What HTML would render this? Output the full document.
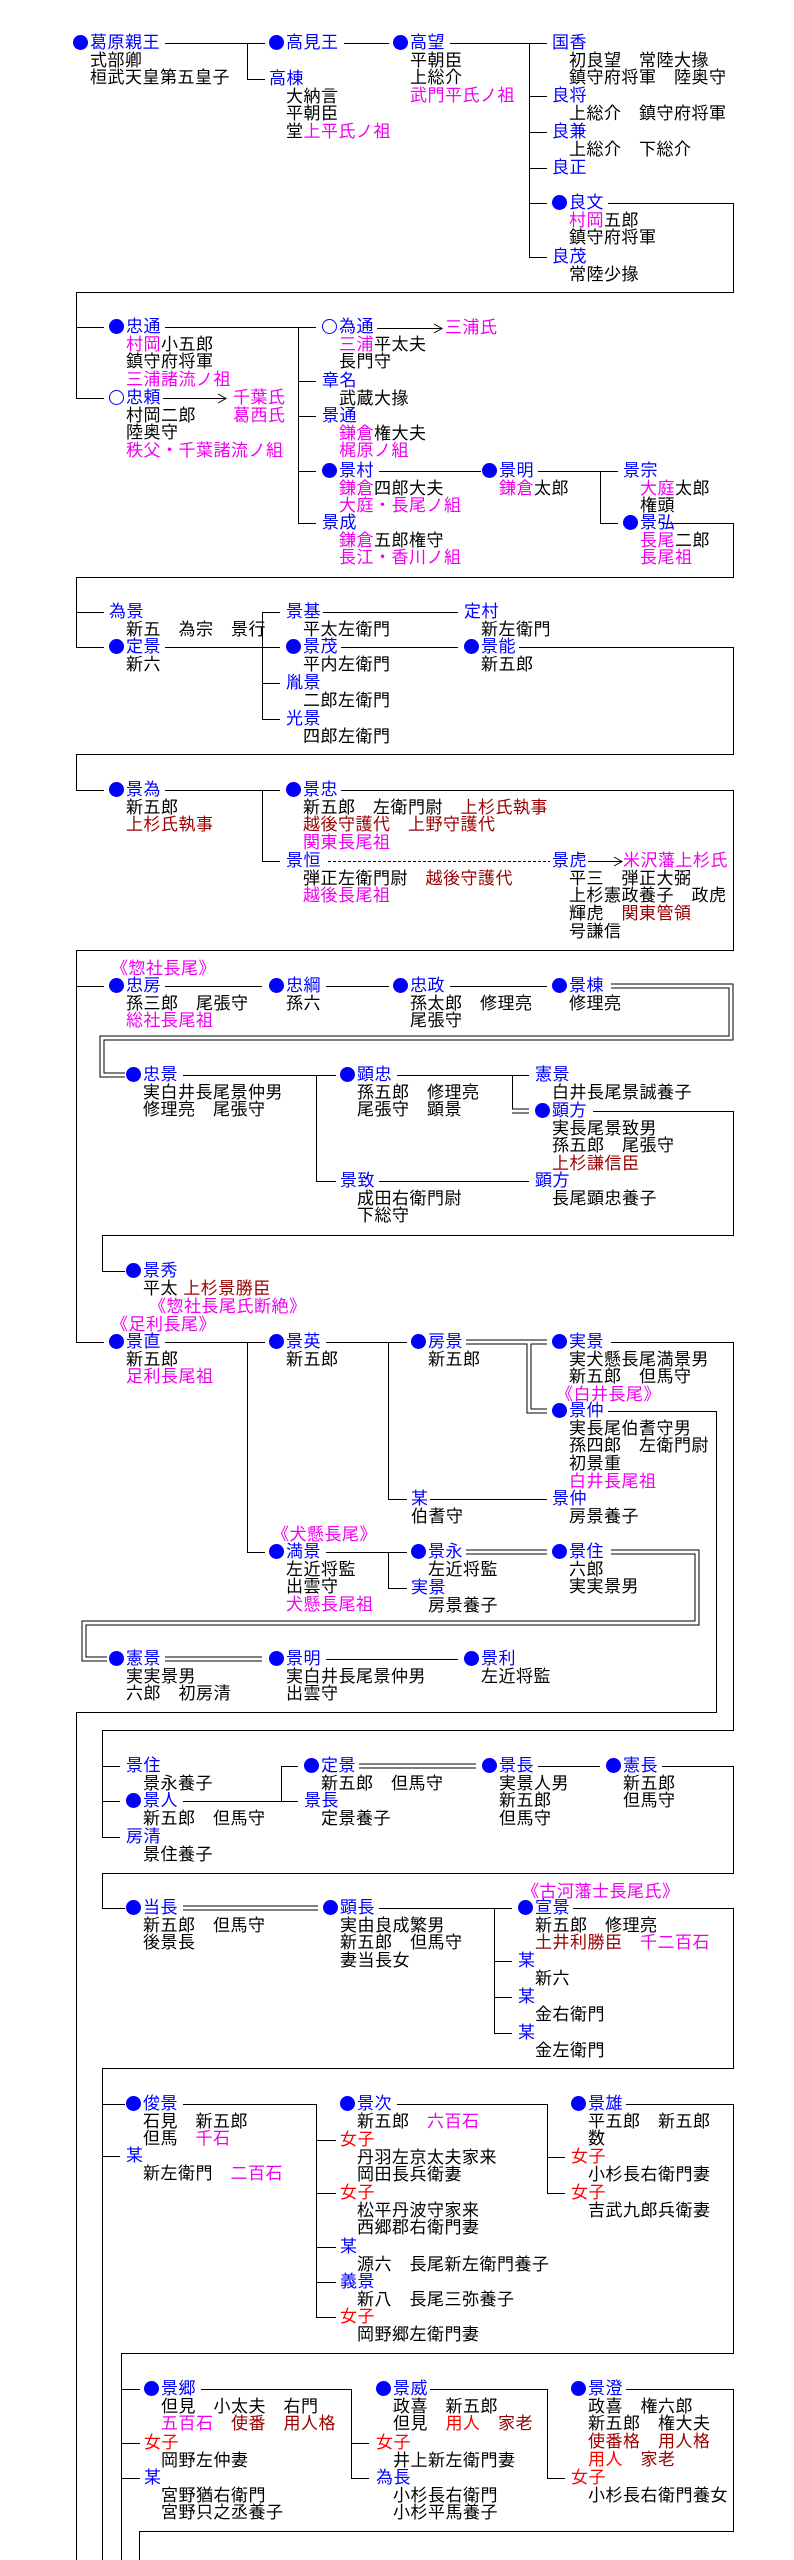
<!DOCTYPE html>
<html><head><meta charset="utf-8">
<style>
html,body{margin:0;padding:0;background:#fff;}
body{width:794px;height:2560px;position:relative;overflow:hidden;font-family:"Liberation Sans","Noto Sans CJK JP","IPAGothic",sans-serif;font-size:17px;letter-spacing:0.5px;line-height:17.7px;color:#000;}
.n{position:absolute;white-space:nowrap;}
.n div{margin-left:17px;}
.n div.ni{margin-left:0;}
.b{color:#0000ff}
.m{color:#f000f0}
.r{color:#990000}
.rd{color:#ff0000}
.c{display:inline-block;width:15px;height:15px;border-radius:50%;background:#0000ff;margin-right:2px;vertical-align:-2px;}
.o{display:inline-block;width:13px;height:13px;border-radius:50%;border:1px solid #0000ff;margin-right:2px;vertical-align:-2px;}
svg{position:absolute;left:0;top:0;}
</style></head><body>
<svg width="794" height="2560" viewBox="0 0 794 2560">
<g fill="none" stroke="#000" stroke-width="1">
<!-- S1 -->
<path d="M165 43.5H265M247.5 43.5V79.5H265"/>
<path d="M344 43.5H389"/>
<path d="M450 43.5H547M529.5 43.5V257.5M529 96.5H547M529 132.5H547M529 168.5H547M529 203.5H547M529 257.5H547"/>
<path d="M608 203.5H733.5V292.5H76.5V398.5H104M76 327.5H104"/>
<!-- S2 -->
<path d="M165 327.5H298.5V523.5M298 381.5H316M298 416.5H316M298 471.5H316M298 523.5H316M298 327.5H316"/>
<path d="M163 398.5H226M218 394L226 398.5L218 403"/>
<path d="M377 328.5H442M434 324L442 328.5L434 333"/>
<path d="M379 471.5H481"/>
<path d="M538 471.5H600.5V523.5H618M600 471.5H618"/>
<path d="M662 523.5H733.5V577.5H76.5V647.5H104M76 612.5H104"/>
<!-- S3 -->
<path d="M165 647.5H262.5M262.5 612.5V719.5M262 612.5H280M262 647.5H280M262 683.5H280M262 719.5H280"/>
<path d="M323 612.5H458M341 647.5H458"/>
<path d="M519 647.5H733.5V754.5H76.5V790.5H104"/>
<path d="M165 790.5H262.5V861.5H280M262 790.5H280"/>
<path d="M341 790.5H733.5V950.5H76.5V1342.5M76 986.5H104M76 1342.5H104"/>
<path d="M328 861.5H550" stroke-dasharray="3,2"/>
<path d="M588 861.5H622M614 857L622 861.5L614 866"/>
<!-- S4 -->
<path d="M165 986.5H262M326 986.5H389M450 986.5H547"/>
<path d="M183 1075.5H316.5V1181.5H336M316 1075.5H336"/>
<path d="M397 1075.5H529M512.5 1075.5V1111"/>
<path d="M379 1181.5H529"/>
<path d="M593 1111.5H733.5V1235.5H102.5V1271.5H125"/>
<!-- S5 -->
<path d="M165 1342.5H247.5V1552.5H265M247 1342.5H265"/>
<path d="M326 1342.5H388.5V1499.5H407M388 1342.5H407"/>
<path d="M611 1342.5H733.5V1730.5H102.5V1837.5H120M102 1766.5H120M102 1801.5H120"/>
<path d="M608 1411.5H716.5V1712.5H76.5V2560"/>
<path d="M430 1499.5H547"/>
<path d="M326 1552.5H388.5V1588.5H407M388 1552.5H407"/>
<path d="M326 1659.5H458"/>
<!-- S6 -->
<path d="M183 1801.5H281.5V1766.5H298M281 1801.5H298"/>
<path d="M538 1766.5H600"/>
<path d="M662 1766.5H733.5V1873.5H102.5V1908.5H125"/>
<path d="M379 1908.5H494.5V2033.5H512M494 1908.5H512M494 1961.5H512M494 1997.5H512"/>
<path d="M573 1908.5H733.5V2068.5H102.5V2560M102 2104.5H125M102 2156.5H120"/>
<path d="M183 2104.5H316.5V2317.5H336M316 2140.5H336M316 2193.5H336M316 2247.5H336M316 2282.5H336"/>
<path d="M397 2104.5H547.5V2193.5H565M547 2157.5H565"/>
<path d="M626 2104.5H733.5V2353.5H121.5V2560M121 2389.5H140M121 2443.5H140M121 2478.5H140"/>
<!-- S7 -->
<path d="M201 2389.5H351.5V2478.5H369M351 2443.5H369"/>
<path d="M430 2389.5H547.5V2478.5H565"/>
<path d="M626 2389.5H733.5V2531.5H139.5V2560"/>
</g>
<!-- double lines -->
<g fill="none" stroke="#000" stroke-width="5">
<path d="M611 986H731V1038H102V1075H125"/>
<path d="M512 1111H529"/>
<path d="M466 1342H547M529 1342V1411H547"/>
<path d="M466 1552H547"/>
<path d="M611 1552H697V1623H84V1659H107"/>
<path d="M165 1659H262"/>
<path d="M359 1766H476"/>
<path d="M183 1908H318"/>
</g>
<g fill="none" stroke="#fff" stroke-width="3">
<path d="M610 986H731V1038H102V1075H126"/>
<path d="M511 1111H530"/>
<path d="M465 1342H548M529 1342V1411H548"/>
<path d="M465 1552H548"/>
<path d="M610 1552H697V1623H84V1659H108"/>
<path d="M164 1659H263"/>
<path d="M358 1766H477"/>
<path d="M182 1908H319"/>
</g>
</svg>

<!-- S1 -->
<div class="n" style="left:73px;top:34px"><span class="c"></span><span class="b">葛原親王</span><div>式部卿</div><div>桓武天皇第五皇子</div></div>
<div class="n" style="left:269px;top:34px"><span class="c"></span><span class="b">高見王</span></div>
<div class="n" style="left:269px;top:70px"><span class="b">高棟</span><div>大納言</div><div>平朝臣</div><div>堂<span class="m">上平氏ノ祖</span></div></div>
<div class="n" style="left:393px;top:34px"><span class="c"></span><span class="b">高望</span><div>平朝臣</div><div>上総介</div><div class="m">武門平氏ノ祖</div></div>
<div class="n" style="left:552px;top:34px"><span class="b">国香</span><div>初良望　常陸大掾</div><div>鎮守府将軍　陸奥守</div></div>
<div class="n" style="left:552px;top:87px"><span class="b">良将</span><div>上総介　鎮守府将軍</div></div>
<div class="n" style="left:552px;top:123px"><span class="b">良兼</span><div>上総介　下総介</div></div>
<div class="n" style="left:552px;top:159px"><span class="b">良正</span></div>
<div class="n" style="left:552px;top:194px"><span class="c"></span><span class="b">良文</span><div><span class="m">村岡</span>五郎</div><div>鎮守府将軍</div></div>
<div class="n" style="left:552px;top:248px"><span class="b">良茂</span><div>常陸少掾</div></div>

<!-- S2 -->
<div class="n" style="left:109px;top:318px"><span class="c"></span><span class="b">忠通</span><div><span class="m">村岡</span>小五郎</div><div>鎮守府将軍</div><div class="m">三浦諸流ノ祖</div></div>
<div class="n" style="left:109px;top:389px"><span class="o"></span><span class="b">忠頼</span><div>村岡二郎</div><div>陸奥守</div><div class="m">秩父・千葉諸流ノ組</div></div>
<div class="n m" style="left:233px;top:389px">千葉氏<div class="ni">葛西氏</div></div>
<div class="n" style="left:322px;top:318px"><span class="o"></span><span class="b">為通</span><div><span class="m">三浦</span>平太夫</div><div>長門守</div></div>
<div class="n m" style="left:445px;top:319px">三浦氏</div>
<div class="n" style="left:322px;top:372px"><span class="b">章名</span><div>武蔵大掾</div></div>
<div class="n" style="left:322px;top:407px"><span class="b">景通</span><div><span class="m">鎌倉</span>権大夫</div><div class="m">梶原ノ組</div></div>
<div class="n" style="left:322px;top:462px"><span class="c"></span><span class="b">景村</span><div><span class="m">鎌倉</span>四郎大夫</div><div class="m">大庭・長尾ノ組</div></div>
<div class="n" style="left:322px;top:514px"><span class="b">景成</span><div><span class="m">鎌倉</span>五郎権守</div><div class="m">長江・香川ノ組</div></div>
<div class="n" style="left:482px;top:462px"><span class="c"></span><span class="b">景明</span><div><span class="m">鎌倉</span>太郎</div></div>
<div class="n" style="left:623px;top:462px"><span class="b">景宗</span><div><span class="m">大庭</span>太郎</div><div>権頭</div></div>
<div class="n" style="left:623px;top:514px"><span class="c"></span><span class="b">景弘</span><div><span class="m">長尾</span>二郎</div><div class="m">長尾祖</div></div>

<!-- S3 -->
<div class="n" style="left:109px;top:603px"><span class="b">為景</span><div>新五　為宗　景行</div></div>
<div class="n" style="left:109px;top:638px"><span class="c"></span><span class="b">定景</span><div>新六</div></div>
<div class="n" style="left:286px;top:603px"><span class="b">景基</span><div>平太左衛門</div></div>
<div class="n" style="left:464px;top:603px"><span class="b">定村</span><div>新左衛門</div></div>
<div class="n" style="left:286px;top:638px"><span class="c"></span><span class="b">景茂</span><div>平内左衛門</div></div>
<div class="n" style="left:464px;top:638px"><span class="c"></span><span class="b">景能</span><div>新五郎</div></div>
<div class="n" style="left:286px;top:674px"><span class="b">胤景</span><div>二郎左衛門</div></div>
<div class="n" style="left:286px;top:710px"><span class="b">光景</span><div>四郎左衛門</div></div>
<div class="n" style="left:109px;top:781px"><span class="c"></span><span class="b">景為</span><div>新五郎</div><div class="r">上杉氏執事</div></div>
<div class="n" style="left:286px;top:781px"><span class="c"></span><span class="b">景忠</span><div>新五郎　左衛門尉　<span class="r">上杉氏執事</span></div><div class="r">越後守護代　上野守護代</div><div class="m">関東長尾祖</div></div>
<div class="n" style="left:286px;top:852px"><span class="b">景恒</span><div>弾正左衛門尉　<span class="r">越後守護代</span></div><div class="m">越後長尾祖</div></div>
<div class="n" style="left:552px;top:852px"><span class="b">景虎</span><div>平三　弾正大弼</div><div>上杉憲政養子　政虎</div><div>輝虎　<span class="r">関東管領</span></div><div>号謙信</div></div>
<div class="n m" style="left:623px;top:852px">米沢藩上杉氏</div>

<!-- S4 -->
<div class="n m" style="left:111px;top:960px">《惣社長尾》</div>
<div class="n" style="left:109px;top:977px"><span class="c"></span><span class="b">忠房</span><div>孫三郎　尾張守</div><div class="m">総社長尾祖</div></div>
<div class="n" style="left:269px;top:977px"><span class="c"></span><span class="b">忠綱</span><div>孫六</div></div>
<div class="n" style="left:393px;top:977px"><span class="c"></span><span class="b">忠政</span><div>孫太郎　修理亮</div><div>尾張守</div></div>
<div class="n" style="left:552px;top:977px"><span class="c"></span><span class="b">景棟</span><div>修理亮</div></div>
<div class="n" style="left:126px;top:1066px"><span class="c"></span><span class="b">忠景</span><div>実白井長尾景仲男</div><div>修理亮　尾張守</div></div>
<div class="n" style="left:340px;top:1066px"><span class="c"></span><span class="b">顕忠</span><div>孫五郎　修理亮</div><div>尾張守　顕景</div></div>
<div class="n" style="left:535px;top:1066px"><span class="b">憲景</span><div>白井長尾景誠養子</div></div>
<div class="n" style="left:535px;top:1102px"><span class="c"></span><span class="b">顕方</span><div>実長尾景致男</div><div>孫五郎　尾張守</div><div class="r">上杉謙信臣</div></div>
<div class="n" style="left:340px;top:1172px"><span class="b">景致</span><div>成田右衛門尉</div><div>下総守</div></div>
<div class="n" style="left:535px;top:1172px"><span class="b">顕方</span><div>長尾顕忠養子</div></div>
<div class="n" style="left:126px;top:1262px"><span class="c"></span><span class="b">景秀</span><div>平太 <span class="r">上杉景勝臣</span></div></div>
<div class="n m" style="left:149px;top:1298px">《惣社長尾氏断絶》</div>
<div class="n m" style="left:111px;top:1316px">《足利長尾》</div>

<!-- S5 -->
<div class="n" style="left:109px;top:1333px"><span class="c"></span><span class="b">景直</span><div>新五郎</div><div class="m">足利長尾祖</div></div>
<div class="n" style="left:269px;top:1333px"><span class="c"></span><span class="b">景英</span><div>新五郎</div></div>
<div class="n" style="left:411px;top:1333px"><span class="c"></span><span class="b">房景</span><div>新五郎</div></div>
<div class="n" style="left:552px;top:1333px"><span class="c"></span><span class="b">実景</span><div>実犬懸長尾満景男</div><div>新五郎　但馬守</div></div>
<div class="n m" style="left:556px;top:1386px">《白井長尾》</div>
<div class="n" style="left:552px;top:1402px"><span class="c"></span><span class="b">景仲</span><div>実長尾伯耆守男</div><div>孫四郎　左衛門尉</div><div>初景重</div><div class="m">白井長尾祖</div></div>
<div class="n" style="left:411px;top:1490px"><span class="b">某</span><div class="ni">伯耆守</div></div>
<div class="n" style="left:552px;top:1490px"><span class="b">景仲</span><div>房景養子</div></div>
<div class="n m" style="left:272px;top:1526px">《犬懸長尾》</div>
<div class="n" style="left:269px;top:1543px"><span class="c"></span><span class="b">満景</span><div>左近将監</div><div>出雲守</div><div class="m">犬懸長尾祖</div></div>
<div class="n" style="left:411px;top:1543px"><span class="c"></span><span class="b">景永</span><div>左近将監</div></div>
<div class="n" style="left:552px;top:1543px"><span class="c"></span><span class="b">景住</span><div>六郎</div><div>実実景男</div></div>
<div class="n" style="left:411px;top:1579px"><span class="b">実景</span><div>房景養子</div></div>
<div class="n" style="left:109px;top:1650px"><span class="c"></span><span class="b">憲景</span><div>実実景男</div><div>六郎　初房清</div></div>
<div class="n" style="left:269px;top:1650px"><span class="c"></span><span class="b">景明</span><div>実白井長尾景仲男</div><div>出雲守</div></div>
<div class="n" style="left:464px;top:1650px"><span class="c"></span><span class="b">景利</span><div>左近将監</div></div>

<!-- S6 -->
<div class="n" style="left:126px;top:1757px"><span class="b">景住</span><div>景永養子</div></div>
<div class="n" style="left:126px;top:1792px"><span class="c"></span><span class="b">景人</span><div>新五郎　但馬守</div></div>
<div class="n" style="left:126px;top:1828px"><span class="b">房清</span><div>景住養子</div></div>
<div class="n" style="left:304px;top:1757px"><span class="c"></span><span class="b">定景</span><div>新五郎　但馬守</div></div>
<div class="n" style="left:304px;top:1792px"><span class="b">景長</span><div>定景養子</div></div>
<div class="n" style="left:482px;top:1757px"><span class="c"></span><span class="b">景長</span><div>実景人男</div><div>新五郎</div><div>但馬守</div></div>
<div class="n" style="left:606px;top:1757px"><span class="c"></span><span class="b">憲長</span><div>新五郎</div><div>但馬守</div></div>
<div class="n m" style="left:522px;top:1883px">《古河藩士長尾氏》</div>
<div class="n" style="left:126px;top:1899px"><span class="c"></span><span class="b">当長</span><div>新五郎　但馬守</div><div>後景長</div></div>
<div class="n" style="left:323px;top:1899px"><span class="c"></span><span class="b">顕長</span><div>実由良成繁男</div><div>新五郎　但馬守</div><div>妻当長女</div></div>
<div class="n" style="left:518px;top:1899px"><span class="c"></span><span class="b">宣景</span><div>新五郎　修理亮</div><div><span class="r">土井利勝臣</span>　<span class="m">千二百石</span></div></div>
<div class="n" style="left:518px;top:1952px"><span class="b">某</span><div>新六</div></div>
<div class="n" style="left:518px;top:1988px"><span class="b">某</span><div>金右衛門</div></div>
<div class="n" style="left:518px;top:2024px"><span class="b">某</span><div>金左衛門</div></div>
<div class="n" style="left:126px;top:2095px"><span class="c"></span><span class="b">俊景</span><div>石見　新五郎</div><div>但馬　<span class="m">千石</span></div></div>
<div class="n" style="left:126px;top:2147px"><span class="b">某</span><div>新左衛門　<span class="m">二百石</span></div></div>
<div class="n" style="left:340px;top:2095px"><span class="c"></span><span class="b">景次</span><div>新五郎　<span class="m">六百石</span></div></div>
<div class="n" style="left:340px;top:2131px"><span class="rd">女子</span><div>丹羽左京太夫家来</div><div>岡田長兵衛妻</div></div>
<div class="n" style="left:340px;top:2184px"><span class="rd">女子</span><div>松平丹波守家来</div><div>西郷郡右衛門妻</div></div>
<div class="n" style="left:340px;top:2238px"><span class="b">某</span><div>源六　長尾新左衛門養子</div></div>
<div class="n" style="left:340px;top:2273px"><span class="b">義景</span><div>新八　長尾三弥養子</div></div>
<div class="n" style="left:340px;top:2308px"><span class="rd">女子</span><div>岡野郷左衛門妻</div></div>
<div class="n" style="left:571px;top:2095px"><span class="c"></span><span class="b">景雄</span><div>平五郎　新五郎</div><div>数</div></div>
<div class="n" style="left:571px;top:2148px"><span class="rd">女子</span><div>小杉長右衛門妻</div></div>
<div class="n" style="left:571px;top:2184px"><span class="rd">女子</span><div>吉武九郎兵衛妻</div></div>

<!-- S7 -->
<div class="n" style="left:144px;top:2380px"><span class="c"></span><span class="b">景郷</span><div>但見　小太夫　右門</div><div><span class="m">五百石</span>　<span class="r">使番</span>　<span class="r">用人格</span></div></div>
<div class="n" style="left:144px;top:2434px"><span class="rd">女子</span><div>岡野左仲妻</div></div>
<div class="n" style="left:144px;top:2469px"><span class="b">某</span><div>宮野猶右衛門</div><div>宮野只之丞養子</div></div>
<div class="n" style="left:376px;top:2380px"><span class="c"></span><span class="b">景威</span><div>政喜　新五郎</div><div>但見　<span class="rd">用人</span>　<span class="r">家老</span></div></div>
<div class="n" style="left:376px;top:2434px"><span class="rd">女子</span><div>井上新左衛門妻</div></div>
<div class="n" style="left:376px;top:2469px"><span class="b">為長</span><div>小杉長右衛門</div><div>小杉平馬養子</div></div>
<div class="n" style="left:571px;top:2380px"><span class="c"></span><span class="b">景澄</span><div>政喜　権六郎</div><div>新五郎　権大夫</div><div><span class="r">使番格</span>　<span class="r">用人格</span></div><div><span class="rd">用人</span>　<span class="r">家老</span></div></div>
<div class="n" style="left:571px;top:2469px"><span class="rd">女子</span><div>小杉長右衛門養女</div></div>
</body></html>
